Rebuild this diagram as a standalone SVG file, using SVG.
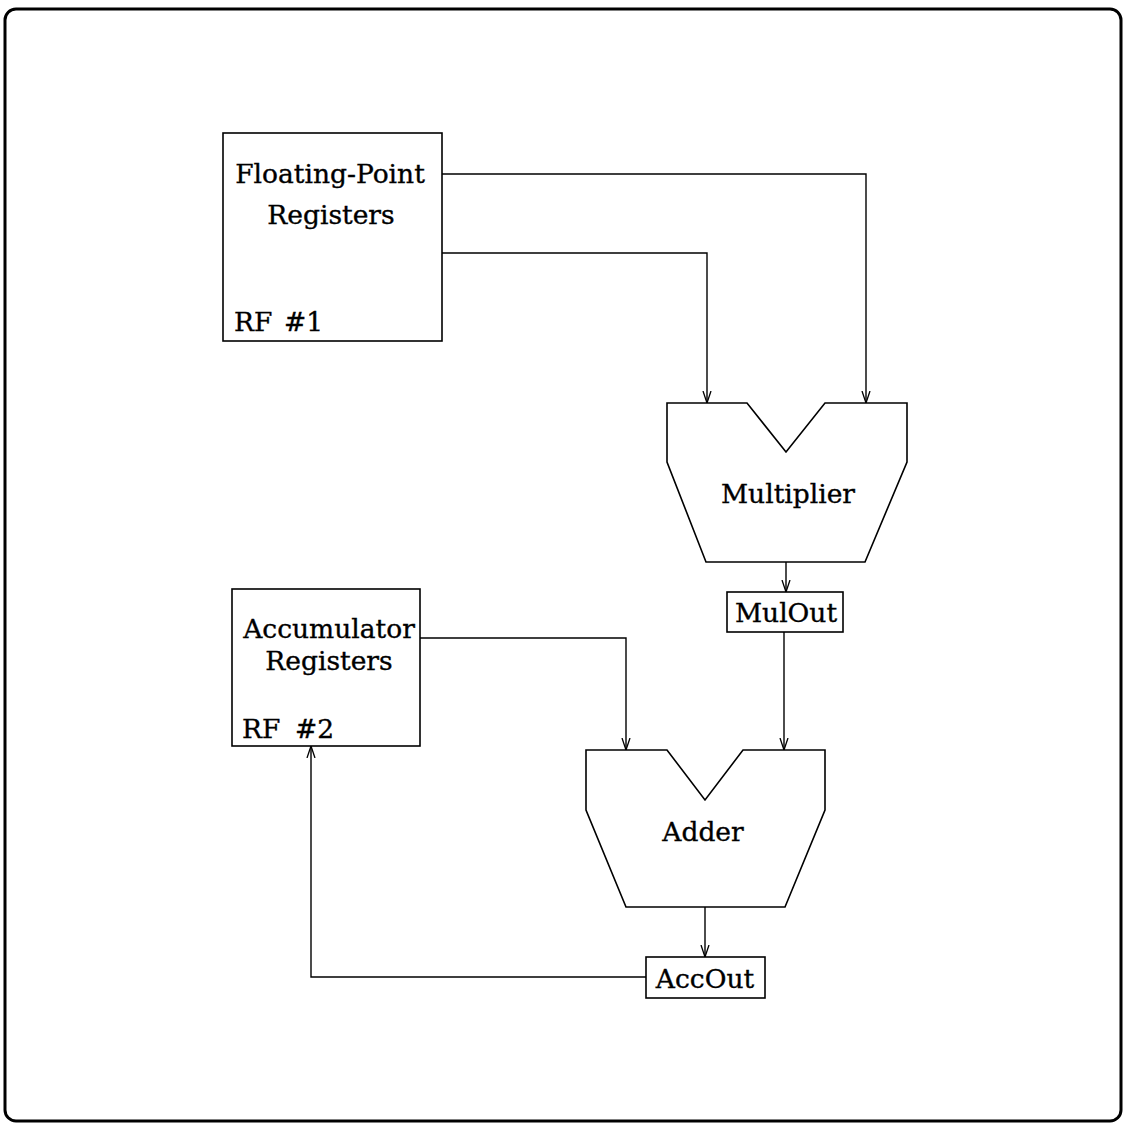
<svg xmlns="http://www.w3.org/2000/svg" width="1126" height="1125" viewBox="0 0 1126 1125">
  <style>
    .frame { fill: none; stroke: #000; stroke-width: 3; }
    .box { fill: #fff; stroke: #000; stroke-width: 1.6; }
    .wire { fill: none; stroke: #000; stroke-width: 1.4; }
    .lbl { font-family: "DejaVu Serif", "Liberation Serif", serif; font-size: 26.5px; fill: #000; stroke: #000; stroke-width: 0.35; }
    .mid { text-anchor: middle; }
  </style>
  <defs>
    <marker id="vee" viewBox="0 0 12 10" refX="12" refY="5" markerWidth="12" markerHeight="10" markerUnits="userSpaceOnUse" orient="auto">
      <path d="M0,1 L12,5 L0,9" fill="none" stroke="#000" stroke-width="1.3"/>
    </marker>
  </defs>

  <rect x="5" y="9" width="1116" height="1112" rx="11" ry="11" class="frame"/>

  <g id="connectors">
    <path class="wire" d="M442,174 H866 V403" marker-end="url(#vee)"/>
    <path class="wire" d="M442,253 H707 V403" marker-end="url(#vee)"/>
    <path class="wire" d="M786,562 V592" marker-end="url(#vee)"/>
    <path class="wire" d="M784,632 V750" marker-end="url(#vee)"/>
    <path class="wire" d="M420,638 H626 V750" marker-end="url(#vee)"/>
    <path class="wire" d="M705,907 V957" marker-end="url(#vee)"/>
    <path class="wire" d="M646,977 H311 V746" marker-end="url(#vee)"/>
  </g>

  <g id="rf1">
    <rect class="box" x="223" y="133" width="219" height="208"/>
    <text class="lbl mid" x="330" y="183">Floating-Point</text>
    <text class="lbl mid" x="331" y="224">Registers</text>
    <text class="lbl" x="234" y="331">RF</text>
    <text class="lbl" x="284" y="331">#1</text>
  </g>

  <g id="multiplier">
    <path class="box" d="M667,403 H747 L786,452 L825,403 H907 V462 L865,562 H706 L667,462 Z"/>
    <text class="lbl mid" x="788" y="503">Multiplier</text>
  </g>

  <g id="mulout">
    <rect class="box" x="727" y="592" width="116" height="40"/>
    <text class="lbl mid" x="786" y="622">MulOut</text>
  </g>

  <g id="rf2">
    <rect class="box" x="232" y="589" width="188" height="157"/>
    <text class="lbl mid" x="329" y="638">Accumulator</text>
    <text class="lbl mid" x="329" y="670">Registers</text>
    <text class="lbl" x="242" y="738">RF</text>
    <text class="lbl" x="295" y="738">#2</text>
  </g>

  <g id="adder">
    <path class="box" d="M586,750 H667 L705,800 L743,750 H825 V810 L785,907 H626 L586,810 Z"/>
    <text class="lbl mid" x="703" y="841">Adder</text>
  </g>

  <g id="accout">
    <rect class="box" x="646" y="957" width="119" height="41"/>
    <text class="lbl mid" x="705" y="988">AccOut</text>
  </g>
</svg>
